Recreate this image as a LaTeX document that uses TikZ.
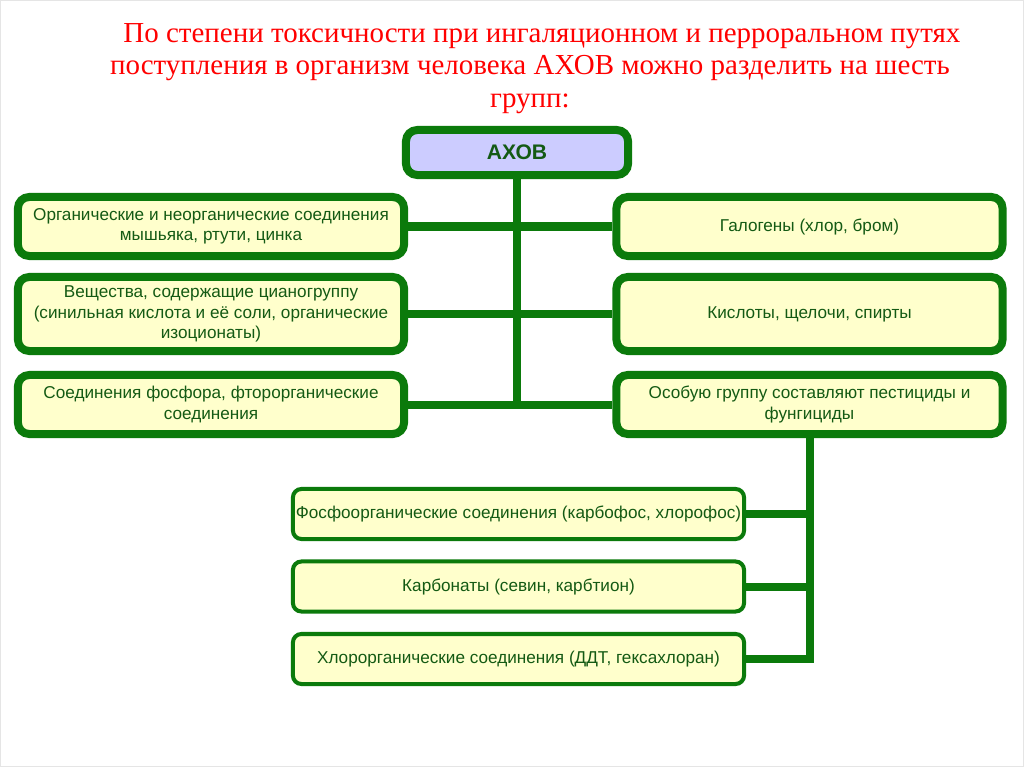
\documentclass[tikz,border=0pt]{standalone}
\usepackage{fontspec}
\setmainfont{Liberation Sans}
\newfontfamily\ttlfont{Liberation Serif}
\usepackage{xcolor}
\usepackage{tikz}
\usetikzlibrary{calc,positioning}
\definecolor{grnc}{HTML}{0B7A0B}
\definecolor{txtc}{HTML}{145A14}
\definecolor{boxbg}{HTML}{FFFFCC}
\definecolor{topbg}{HTML}{CCCCFF}
\definecolor{redc}{HTML}{FF0000}
\tikzset{
  bx/.style={draw=grnc,line width=0.2cm,rounded corners=8pt,fill=boxbg,text=txtc,align=center,
    minimum width=9.65cm,minimum height=1.475cm,inner sep=0pt,font=\fontsize{12.2}{14.4}\selectfont},
  tp/.style={bx,fill=topbg,minimum width=5.55cm,minimum height=1.125cm,font=\fontsize{15}{17}\selectfont\bfseries},
  sb/.style={bx,line width=0.1cm,rounded corners=6pt,minimum width=11.275cm,minimum height=1.25cm},
  ln/.style={grnc,line width=0.2cm}
}
\begin{document}
\begin{tikzpicture}[x=0.025cm,y=-0.025cm]
\useasboundingbox[fill=white] (0,0) rectangle (1024,767);
\draw[black!10] (0.5,0.5) rectangle (1023.5,766.5);
% title
\node[font=\ttlfont\fontsize{20.6}{23.1}\selectfont,text=redc,align=center,anchor=north,inner sep=0pt] (ttl) at (530,23)
  {\hspace*{17pt}По степени токсичности при ингаляционном и перроральном путях\\
   поступления в организм человека АХОВ можно разделить на шесть\\
   групп:};
% boxes
\node[tp] (axob) at (517,152.5) {АХОВ};
\node[bx] (l1) at (211,226.5) {Органические и неорганические соединения\\мышьяка, ртути, цинка};
\node[bx,minimum height=1.85cm] (l2) at (211,314) {Вещества, содержащие цианогруппу\\(синильная кислота и её соли, органические\\изоционаты)};
\node[bx] (l3) at (211,404.5) {Соединения фосфора, фторорганические\\соединения};
\node[bx] (r1) at (809.5,226.5) {Галогены (хлор, бром)};
\node[bx,minimum height=1.85cm] (r2) at (809.5,314) {Кислоты, щелочи, спирты};
\node[bx] (r3) at (809.5,404.5) {Особую группу составляют пестициды и\\фунгициды};
\node[sb] (b1) at (518.5,514) {Фосфоорганические соединения (карбофос, хлорофос)};
\node[sb] (b2) at (518.5,586.5) {Карбонаты (севин, карбтион)};
\node[sb] (b3) at (518.5,659) {Хлорорганические соединения (ДДТ, гексахлоран)};
% links
\draw[ln,line cap=rect] (axob.south) -- (axob.south |- l3.east);
\draw[ln] (l1.east) -- (r1.west);
\draw[ln] (l2.east) -- (r2.west);
\draw[ln] (l3.east) -- (r3.west);
\draw[ln,line cap=rect] (r3.south) -- (r3.south |- b3.east);
\draw[ln] (b1.east) -- (r3.south |- b1.east);
\draw[ln] (b2.east) -- (r3.south |- b2.east);
\draw[ln] (b3.east) -- (r3.south |- b3.east);
\end{tikzpicture}
\end{document}
